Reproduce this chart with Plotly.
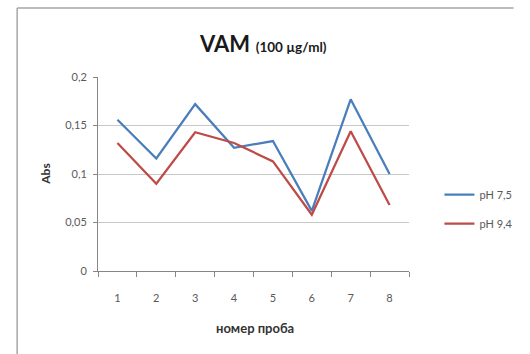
import plotly.graph_objects as go

# Sample numbers and absorbance readings
samples = ["1", "2", "3", "4", "5", "6", "7", "8"]
abs_ph75 = [0.156, 0.116, 0.172, 0.127, 0.134, 0.062, 0.177, 0.100]
abs_ph94 = [0.132, 0.090, 0.143, 0.132, 0.113, 0.058, 0.144, 0.068]
series_names = ["pH 7,5", "pH 9,4"]
y_ticks = [0, 0.05, 0.1, 0.15, 0.2]

W, H = 530, 354
L, R, T, B = 98, 425, 77, 271  # plot area in pixels

FONT = "Lato, 'Open Sans', sans-serif"
TICK_COLOR = "#595959"

fig = go.Figure()
fig.add_trace(go.Scatter(x=samples, y=abs_ph75, mode="lines", name=series_names[0],
                         line=dict(color="#4a7ebb", width=2.25), legendgroup="a"))
fig.add_trace(go.Scatter(x=samples, y=abs_ph94, mode="lines", name=series_names[1],
                         line=dict(color="#be4b48", width=2.25), legendgroup="b"))

pw, ph = R - L, B - T
def px(x):
    return (x - L) / pw
def py(y):
    return (B - y) / ph

fig.update_layout(
    width=W, height=H,
    margin=dict(l=L, r=W - R, t=T, b=H - B),
    paper_bgcolor="white", plot_bgcolor="white",
    separators=", ",
    font=dict(family=FONT, size=11, color=TICK_COLOR),
    showlegend=True,
    legend=dict(x=px(457), y=py(180), xanchor="left", yanchor="top",
                font=dict(size=11, color=TICK_COLOR), itemwidth=30,
                tracegroupgap=10, bgcolor="rgba(0,0,0,0)"),
    xaxis=dict(type="category", range=[-0.5, len(samples) - 0.5],
               tickson="boundaries", ticks="outside", ticklen=5,
               tickcolor="#868686", showline=True, linecolor="#868686", linewidth=1,
               showgrid=False, ticklabelstandoff=17, fixedrange=True),
    yaxis=dict(range=[0, 0.2], tickvals=y_ticks, ticks="outside", ticklen=4,
               tickcolor="#868686", showline=True, linecolor="#868686", linewidth=1,
               showgrid=True, gridcolor="#c8c8c8", gridwidth=1, zeroline=False,
               ticklabelstandoff=4),
    shapes=[
        # chart frame
        dict(type="line", xref="paper", yref="paper", x0=px(13), x1=px(W + 5),
             y0=py(8), y1=py(8), line=dict(color="#a6a6a6", width=1.5)),
        dict(type="line", xref="paper", yref="paper", x0=px(13), x1=px(13),
             y0=py(8), y1=py(H + 5), line=dict(color="#a6a6a6", width=1.5)),
    ],
    annotations=[
        dict(text="<b>VAM</b> <b><span style='font-size:13.5px'>(100 µg/ml)</span></b>",
             xref="paper", yref="paper", x=px(271), y=py(44), showarrow=False,
             xanchor="center", yanchor="middle",
             font=dict(size=22, color="#1a1a1a", family=FONT)),
        dict(text="<b>Abs</b>", xref="paper", yref="paper", x=px(42), y=py(174),
             showarrow=False, textangle=-90, xanchor="center", yanchor="middle",
             font=dict(size=12, color="#333333", family=FONT)),
        dict(text="<b>номер проба</b>", xref="paper", yref="paper", x=px(263), y=py(328),
             showarrow=False, xanchor="center", yanchor="middle",
             font=dict(size=13, color="#333333", family=FONT)),
    ],
)

fig.write_html("out.html")
